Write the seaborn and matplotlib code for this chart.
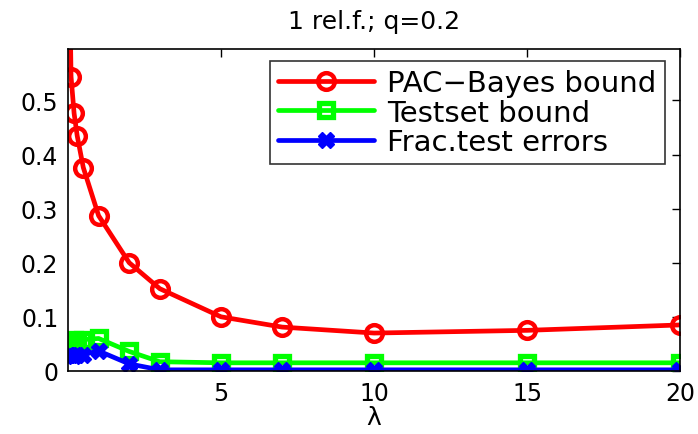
import matplotlib
matplotlib.use("Agg")
import matplotlib.pyplot as plt
import seaborn as sns
import pandas as pd

# lambda values and the three curves
lam = [0.01, 0.1, 0.2, 0.3, 0.5, 1, 2, 3, 5, 7, 10, 15, 20]
pac_bayes = [0.9, 0.544, 0.476, 0.435, 0.376, 0.287, 0.200, 0.152, 0.100, 0.081, 0.070, 0.075, 0.085]
testset = [0.056, 0.056, 0.057, 0.056, 0.058, 0.060, 0.036, 0.017, 0.015, 0.015, 0.015, 0.015, 0.015]
frac_err = [0.030, 0.030, 0.028, 0.030, 0.030, 0.037, 0.013, 0.002, 0.002, 0.002, 0.002, 0.002, 0.002]

x_ticks = [5, 10, 15, 20]
y_ticks = [0, 0.1, 0.2, 0.3, 0.4, 0.5]
y_tick_labels = ["0", "0.1", "0.2", "0.3", "0.4", "0.5"]

sns.set_style("white")
plt.rcParams["font.family"] = ["DejaVu Sans"]
plt.rcParams.update({"text.color": "black", "axes.labelcolor": "black",
                     "xtick.color": "black", "ytick.color": "black"})

fig = plt.figure(figsize=(6.98, 4.35), dpi=100)
ax = fig.add_axes([0.0974, 0.145, 0.877, 0.74])

df = pd.DataFrame({"lam": lam, "pac": pac_bayes, "test": testset, "err": frac_err})

sns.lineplot(data=df, x="lam", y="pac", ax=ax, color="red", lw=3.4, marker="o",
             markersize=12, markerfacecolor="none", markeredgecolor="red",
             markeredgewidth=3.2, label="PAC\u2212Bayes bound")
sns.lineplot(data=df, x="lam", y="test", ax=ax, color="#00ff00", lw=3.4, marker="s",
             markersize=10, markerfacecolor="none", markeredgecolor="#00ff00",
             markeredgewidth=3.8, label="Testset bound")
sns.lineplot(data=df, x="lam", y="err", ax=ax, color="blue", lw=3.4, marker="X",
             markersize=11, markerfacecolor="blue", markeredgecolor="blue",
             markeredgewidth=1, label="Frac.test errors")

ax.set_xlim(0, 20)
ax.set_ylim(0, 0.595)
ax.set_xticks(x_ticks)
ax.set_yticks(y_ticks)
ax.set_yticklabels(y_tick_labels)
ax.tick_params(direction="in", length=6, width=1, labelsize=17, top=True, right=True,
               colors="black", pad=7)
for s in ax.spines.values():
    s.set_visible(True)
    s.set_color("black")
    s.set_linewidth(1.2)

ax.set_xlabel("\u03bb", fontsize=18, labelpad=0, color="black")
ax.set_ylabel("")
ax.set_title("1 rel.f.; q=0.2", fontsize=18, pad=15, color="black")

leg = ax.legend(loc="upper right", fontsize=21, handlelength=3.3, frameon=True,
                fancybox=False, edgecolor="black", borderpad=0.28, labelspacing=0.05,
                handletextpad=0.45, borderaxespad=0, bbox_to_anchor=(0.975, 0.963))
leg.get_frame().set_linewidth(1.2)
for t in leg.get_texts():
    t.set_color("black")

fig.savefig("out.png", dpi=100)
